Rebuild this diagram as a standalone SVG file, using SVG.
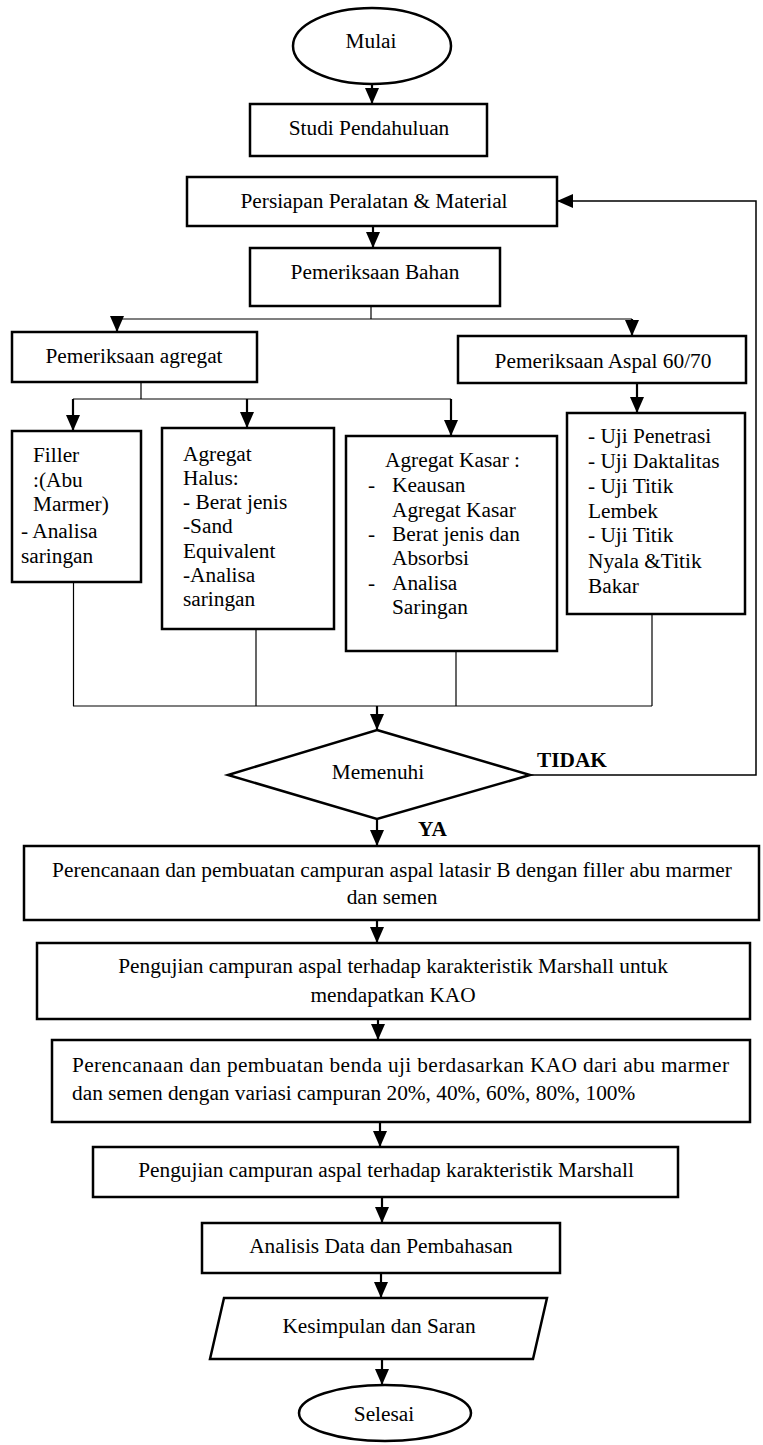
<svg xmlns="http://www.w3.org/2000/svg" width="763" height="1445" viewBox="0 0 763 1445">
<style>
  .box { fill: #fff; stroke: #000; stroke-width: 2.5; }
  .t { font-family: "Liberation Serif", "Times New Roman", serif; font-size: 21.33px; fill: #000; }
  .c { text-anchor: middle; }
  .b { font-weight: bold; }
  .ln { fill: none; stroke: #000; stroke-width: 1.2; }
  .ar { fill: none; stroke: #000; stroke-width: 2.2; marker-end: url(#ah); }
</style>
<defs>
  <marker id="ah" markerUnits="userSpaceOnUse" markerWidth="16" markerHeight="14" refX="16" refY="7" orient="auto">
    <path d="M0,0 L16,7 L0,14 z" fill="#000"/>
  </marker>
</defs>
<rect width="763" height="1445" fill="#fff"/>

<g id="connectors">
  <line class="ar" x1="372" y1="84" x2="372" y2="104"/>
  <line class="ar" x1="373" y1="226" x2="373" y2="248"/>
  <polyline class="ln" points="371,306 371,319"/>
  <line class="ln" x1="117" y1="319" x2="632" y2="319"/>
  <line class="ar" x1="117" y1="319" x2="117" y2="332"/>
  <line class="ar" x1="632" y1="319" x2="632" y2="336"/>
  <line class="ln" x1="141" y1="382" x2="141" y2="399"/>
  <line class="ln" x1="73" y1="399" x2="451" y2="399"/>
  <line class="ar" x1="73" y1="399" x2="73" y2="431"/>
  <line class="ar" x1="247" y1="399" x2="247" y2="428"/>
  <line class="ar" x1="451" y1="399" x2="451" y2="436"/>
  <line class="ar" x1="637" y1="383" x2="637" y2="413"/>
  <line class="ln" x1="73.5" y1="582" x2="73.5" y2="706"/>
  <line class="ln" x1="256" y1="629" x2="256" y2="706"/>
  <line class="ln" x1="456" y1="651" x2="456" y2="706"/>
  <line class="ln" x1="652" y1="614" x2="652" y2="706"/>
  <line class="ln" x1="73" y1="706" x2="652" y2="706"/>
  <line class="ar" x1="377" y1="706" x2="377" y2="730"/>
  <polyline class="ln" style="stroke-width:1.5; marker-end:url(#ah)" points="530,775 756,775 756,201 557,201"/>
  <line class="ar" x1="377" y1="819" x2="377" y2="846"/>
  <line class="ar" x1="377" y1="920" x2="377" y2="943"/>
  <line class="ar" x1="378" y1="1019" x2="378" y2="1040"/>
  <line class="ar" x1="380" y1="1122" x2="380" y2="1147"/>
  <line class="ar" x1="382" y1="1197" x2="382" y2="1223"/>
  <line class="ar" x1="381" y1="1273" x2="381" y2="1298"/>
  <line class="ar" x1="382" y1="1359" x2="382" y2="1385"/>
  <text class="t b" x="537" y="767">TIDAK</text>
  <text class="t b" x="418" y="836">YA</text>
</g>

<g id="mulai">
  <ellipse class="box" cx="372" cy="46" rx="79" ry="38"/>
  <text class="t c" x="371" y="48">Mulai</text>
</g>
<g id="studi">
  <rect class="box" x="250" y="104" width="237" height="52"/>
  <text class="t c" x="369" y="135">Studi Pendahuluan</text>
</g>
<g id="persiapan">
  <rect class="box" x="187" y="177" width="370" height="49"/>
  <text class="t c" x="374" y="208">Persiapan Peralatan &amp; Material</text>
</g>
<g id="bahan">
  <rect class="box" x="250" y="248" width="250" height="58"/>
  <text class="t c" x="375" y="279">Pemeriksaan Bahan</text>
</g>
<g id="agregat">
  <rect class="box" x="12" y="332" width="245" height="50"/>
  <text class="t c" x="134" y="363">Pemeriksaan agregat</text>
</g>
<g id="aspal">
  <rect class="box" x="458" y="336" width="288" height="47"/>
  <text class="t c" x="603" y="368">Pemeriksaan Aspal 60/70</text>
</g>
<g id="filler">
  <rect class="box" x="12" y="431" width="129" height="151"/>
  <text class="t" x="33" y="462">Filler</text>
  <text class="t" x="33" y="487">:(Abu</text>
  <text class="t" x="33" y="511">Marmer)</text>
  <text class="t" x="21" y="538">- Analisa</text>
  <text class="t" x="21" y="563">saringan</text>
</g>
<g id="halus">
  <rect class="box" x="162" y="428" width="172" height="201"/>
  <text class="t" x="183" y="461">Agregat</text>
  <text class="t" x="183" y="485">Halus:</text>
  <text class="t" x="183" y="509">- Berat jenis</text>
  <text class="t" x="183" y="533">-Sand</text>
  <text class="t" x="183" y="558">Equivalent</text>
  <text class="t" x="183" y="582">-Analisa</text>
  <text class="t" x="183" y="606">saringan</text>
</g>
<g id="kasar">
  <rect class="box" x="346" y="436" width="211" height="215"/>
  <text class="t" x="385" y="467">Agregat Kasar :</text>
  <text class="t" x="368" y="492">-</text>
  <text class="t" x="392" y="492">Keausan</text>
  <text class="t" x="392" y="517">Agregat Kasar</text>
  <text class="t" x="368" y="541">-</text>
  <text class="t" x="392" y="541">Berat jenis dan</text>
  <text class="t" x="392" y="565">Absorbsi</text>
  <text class="t" x="368" y="590">-</text>
  <text class="t" x="392" y="590">Analisa</text>
  <text class="t" x="392" y="614">Saringan</text>
</g>
<g id="uji">
  <rect class="box" x="567" y="413" width="178" height="201"/>
  <text class="t" x="588" y="443">- Uji Penetrasi</text>
  <text class="t" x="588" y="468">- Uji Daktalitas</text>
  <text class="t" x="588" y="493">- Uji Titik</text>
  <text class="t" x="588" y="518">Lembek</text>
  <text class="t" x="588" y="542">- Uji Titik</text>
  <text class="t" x="588" y="568">Nyala &amp;Titik</text>
  <text class="t" x="588" y="593">Bakar</text>
</g>
<g id="memenuhi">
  <polygon class="box" points="377,730 530,775 377,819 228,775"/>
  <text class="t c" x="378" y="779">Memenuhi</text>
</g>
<g id="perencanaan1">
  <rect class="box" x="24" y="846" width="735" height="74"/>
  <text class="t c" x="392" y="877">Perencanaan dan pembuatan campuran aspal latasir B dengan filler abu marmer</text>
  <text class="t c" x="392" y="904">dan semen</text>
</g>
<g id="pengujian1">
  <rect class="box" x="37" y="943" width="713" height="76"/>
  <text class="t c" x="393" y="973">Pengujian campuran aspal terhadap karakteristik Marshall untuk</text>
  <text class="t c" x="393" y="1002">mendapatkan KAO</text>
</g>
<g id="perencanaan2">
  <rect class="box" x="52" y="1040" width="698" height="82"/>
  <text class="t" x="72" y="1072" textLength="657" lengthAdjust="spacing">Perencanaan dan pembuatan benda uji berdasarkan KAO dari abu marmer</text>
  <text class="t" x="72" y="1100">dan semen dengan variasi campuran 20%, 40%, 60%, 80%, 100%</text>
</g>
<g id="pengujian2">
  <rect class="box" x="93" y="1147" width="585" height="50"/>
  <text class="t c" x="386" y="1177">Pengujian campuran aspal terhadap karakteristik Marshall</text>
</g>
<g id="analisis">
  <rect class="box" x="202" y="1223" width="358" height="50"/>
  <text class="t c" x="381" y="1253">Analisis Data dan Pembahasan</text>
</g>
<g id="kesimpulan">
  <polygon class="box" points="224,1298 547,1298 533,1359 210,1359"/>
  <text class="t c" x="379" y="1333">Kesimpulan dan Saran</text>
</g>
<g id="selesai">
  <ellipse class="box" cx="385" cy="1413" rx="86" ry="28"/>
  <text class="t c" x="384" y="1421">Selesai</text>
</g>
</svg>
